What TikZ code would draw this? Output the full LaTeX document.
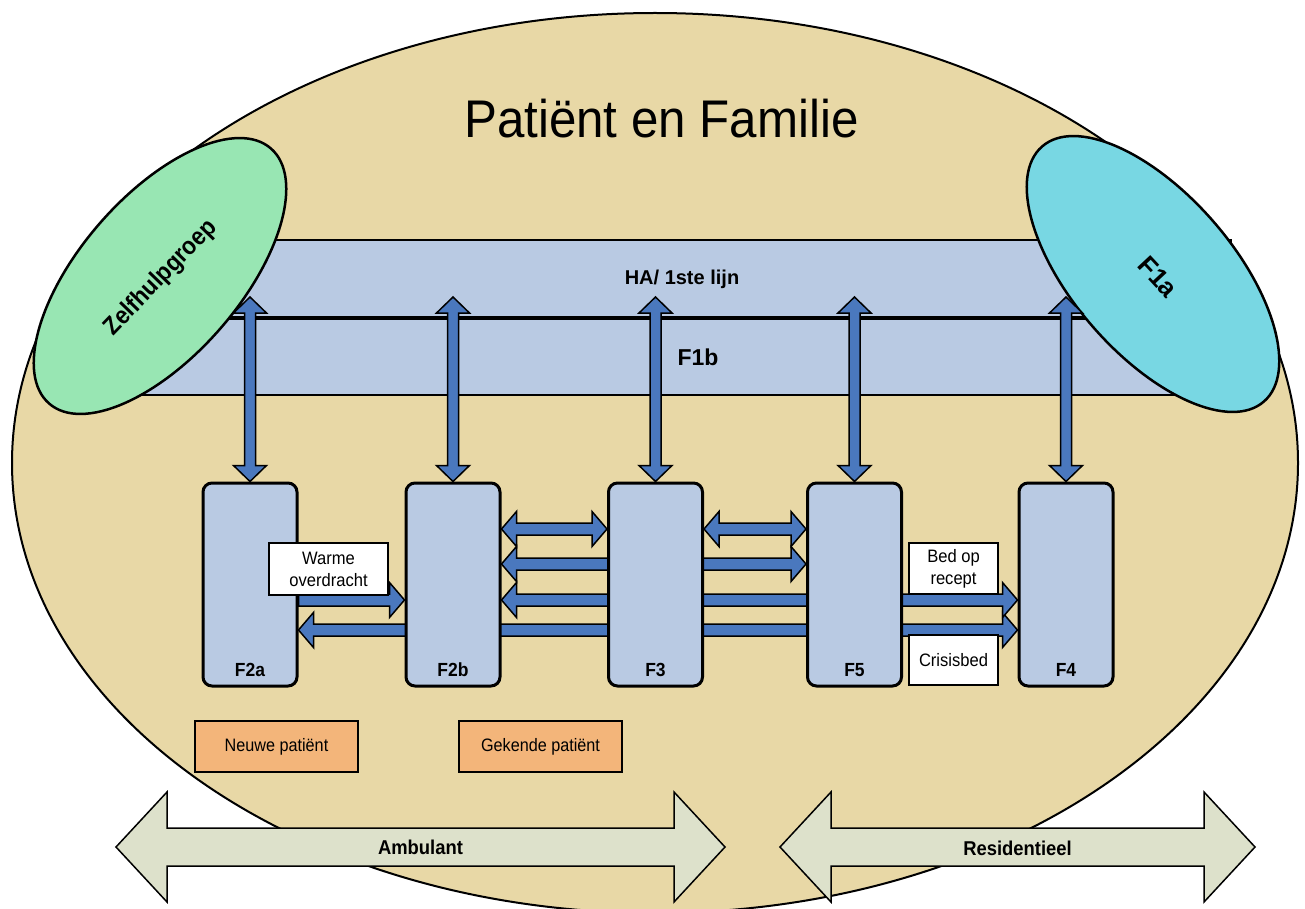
\documentclass[tikz,border=0pt]{standalone}
\usepackage{fontspec}
\usepackage{graphicx}
\setmainfont{Liberation Sans}
\usetikzlibrary{shapes.geometric,calc}
\pgfdeclarelayer{bg}
\pgfdeclarelayer{mid}
\pgfsetlayers{bg,mid,main}
\definecolor{tanfill}{HTML}{E8D8A6}
\definecolor{bandblue}{HTML}{B9CAE3}
\definecolor{zgreen}{HTML}{98E6B3}
\definecolor{zcyan}{HTML}{78D7E3}
\definecolor{arrblue}{HTML}{4A78BE}
\definecolor{orangefill}{HTML}{F3B57A}
\definecolor{palegray}{HTML}{DDE1CB}
\newcommand{\cond}[1]{\scalebox{0.92}[1]{#1}}
% vertical double block arrow: #1 top tip, #2 bottom tip
\newcommand{\vdarrow}[2]{%
  \draw[smallarrow] let \p1=(#1), \p2=(#2) in
   (\x1,\y1) -- (\x1+16.5pt,\y1-16pt) -- (\x1+5.5pt,\y1-16pt) -- (\x2+5.5pt,\y2+16pt)
   -- (\x2+16.5pt,\y2+16pt) -- (\x2,\y2) -- (\x2-16.5pt,\y2+16pt) -- (\x2-5.5pt,\y2+16pt)
   -- (\x1-5.5pt,\y1-16pt) -- (\x1-16.5pt,\y1-16pt) -- cycle;}
% horizontal double block arrow: #1 left tip, #2 right tip, #3 head length, #4 head half width, #5 shaft half width, #6 style
\newcommand{\hdarrow}[6]{%
  \draw[#6] let \p1=(#1), \p2=(#2) in
   (\x1,\y1) -- (\x1+#3,\y1+#4) -- (\x1+#3,\y1+#5) -- (\x2-#3,\y1+#5) -- (\x2-#3,\y1+#4)
   -- (\x2,\y1) -- (\x2-#3,\y1-#4) -- (\x2-#3,\y1-#5) -- (\x1+#3,\y1-#5) -- (\x1+#3,\y1-#4) -- cycle;}
% horizontal right block arrow: #1 flat start, #2 right tip
\newcommand{\hrarrow}[2]{%
  \draw[smallarrow] let \p1=(#1), \p2=(#2) in
   (\x1,\y1+6pt) -- (\x2-15pt,\y1+6pt) -- (\x2-15pt,\y1+17.5pt) -- (\x2,\y1)
   -- (\x2-15pt,\y1-17.5pt) -- (\x2-15pt,\y1-6pt) -- (\x1,\y1-6pt) -- cycle;}
\tikzset{
  smallarrow/.style={draw=black, line width=1.5pt, fill=arrblue, line join=miter},
  bigarrow/.style={draw=black, line width=1.5pt, fill=palegray, line join=miter},
  fbox/.style={draw=black, line width=3pt, fill=bandblue, rounded corners=9pt,
    minimum width=94pt, minimum height=203pt, inner sep=0pt},
  flab/.style={font=\bfseries\fontsize{19}{22}\selectfont, anchor=base},
  wbox/.style={draw=black, line width=2.5pt, fill=white, minimum width=89pt,
    minimum height=51pt, inner sep=0pt, align=center, font=\fontsize{18}{22}\selectfont},
  obox/.style={draw=black, line width=2.5pt, fill=orangefill, minimum width=163pt,
    minimum height=51pt, inner sep=0pt, font=\fontsize{18}{22}\selectfont},
  bandbox/.style={draw=black, line width=2pt, fill=bandblue, minimum width=1098pt, inner sep=0pt},
  blob/.style={ellipse, draw=black, line width=2.5pt, minimum width=338pt, minimum height=160pt, inner sep=0pt},
  boldlab/.style={font=\bfseries\fontsize{20}{24}\selectfont, anchor=base}
}
\begin{document}
\begin{tikzpicture}[x=1pt,y=-1pt]
\useasboundingbox (0,0) rectangle (1305,909);

\begin{pgfonlayer}{bg}
  \node[ellipse, draw=black, line width=2pt, fill=tanfill, minimum width=1286pt,
        minimum height=900pt, inner sep=0pt] (pf) at (655,463) {};
  \node[bandbox, minimum height=77pt] (ha) at (682,278.5) {};
  \node[bandbox, minimum height=76pt] (f1b) at (682,357) {};
  \node[blob, fill=zgreen, rotate=49] (zelf) at (160,276) {};
  \node[blob, fill=zcyan, rotate=-49] (f1a) at (1153,274) {};
\end{pgfonlayer}

% title and band texts
\node[font=\fontsize{53}{60}\selectfont, anchor=base, xscale=0.93] (title) at (661.5,138) {Patiënt en Familie};
\node[boldlab] (hatext) at (682,284) {HA/ 1ste lijn};
\node[font=\bfseries\fontsize{23}{26}\selectfont, anchor=base] (f1btext) at (698,365) {F1b};
\node[rotate=46, font=\bfseries\fontsize{25}{30}\selectfont] (zelftext) at (161,278) {\scalebox{0.9}[1]{Zelfhulpgroep}};
\node[rotate=-47, font=\bfseries\fontsize{26}{30}\selectfont] (f1atext) at (1158,277) {F1a};

% function boxes
\node[fbox] (f2a) at (250,584.5) {};
\node[fbox] (f2b) at (453,584.5) {};
\node[fbox] (f3)  at (655.5,584.5) {};
\node[fbox] (f5)  at (854.5,584.5) {};
\node[fbox] (f4)  at (1066,584.5) {};
\node[flab] at ($(f2a.south)+(0,-11)$) {\cond{F2a}};
\node[flab] at ($(f2b.south)+(0,-11)$) {\cond{F2b}};
\node[flab] at ($(f3.south)+(0,-11)$) {\cond{F3}};
\node[flab] at ($(f5.south)+(0,-11)$) {\cond{F5}};
\node[flab] at ($(f4.south)+(0,-11)$) {\cond{F4}};

% row coordinates
\coordinate (ytop) at (0,297);
\coordinate (y529) at (0,529);
\coordinate (y564) at (0,564);
\coordinate (y600) at (0,600);
\coordinate (y630) at (0,630);

\begin{pgfonlayer}{mid}
  \vdarrow{f2a.north |- ytop}{f2a.north}
  \vdarrow{f2b.north |- ytop}{f2b.north}
  \vdarrow{f3.north |- ytop}{f3.north}
  \vdarrow{f5.north |- ytop}{f5.north}
  \vdarrow{f4.north |- ytop}{f4.north}
  \hrarrow{f2a.east |- y600}{f2b.west |- y600}
  \hdarrow{f2a.east |- y630}{f4.west |- y630}{15pt}{17.5pt}{6pt}{smallarrow}
  \hdarrow{f2b.east |- y529}{f3.west |- y529}{15pt}{17.5pt}{6pt}{smallarrow}
  \hdarrow{f3.east |- y529}{f5.west |- y529}{15pt}{17.5pt}{6pt}{smallarrow}
  \hdarrow{f2b.east |- y564}{f5.west |- y564}{15pt}{17.5pt}{6pt}{smallarrow}
  \hdarrow{f2b.east |- y600}{f4.west |- y600}{15pt}{17.5pt}{6pt}{smallarrow}
\end{pgfonlayer}

% white label boxes
\node[wbox, minimum width=119pt, minimum height=52pt] (warm) at (328.5,569) {\cond{Warme}\\\cond{overdracht}};
\node[wbox] (bed) at (953.5,568.5) {\cond{Bed op}\\\cond{recept}};
\node[wbox, minimum height=50pt] (crisis) at (953.5,660) {\cond{Crisisbed}};

% patient boxes
\node[obox] (neuw) at (276.5,746.5) {\scalebox{0.9}[1]{Neuwe patiënt}};
\node[obox] (gek) at (540.5,746.5) {\scalebox{0.9}[1]{Gekende patiënt}};

% bottom arrows
\coordinate (ambL) at (116,847);
\coordinate (ambR) at (725,847);
\coordinate (resL) at (780,847);
\coordinate (resR) at (1255,847);
\hdarrow{ambL}{ambR}{51pt}{55pt}{19pt}{bigarrow}
\hdarrow{resL}{resR}{51pt}{55pt}{19pt}{bigarrow}
\node[boldlab] (amb) at ($(ambL)!0.5!(ambR)+(0,7)$) {\cond{Ambulant}};
\node[boldlab] (res) at ($(resL)!0.5!(resR)+(0,8)$) {\cond{Residentieel}};
\end{tikzpicture}
\end{document}
